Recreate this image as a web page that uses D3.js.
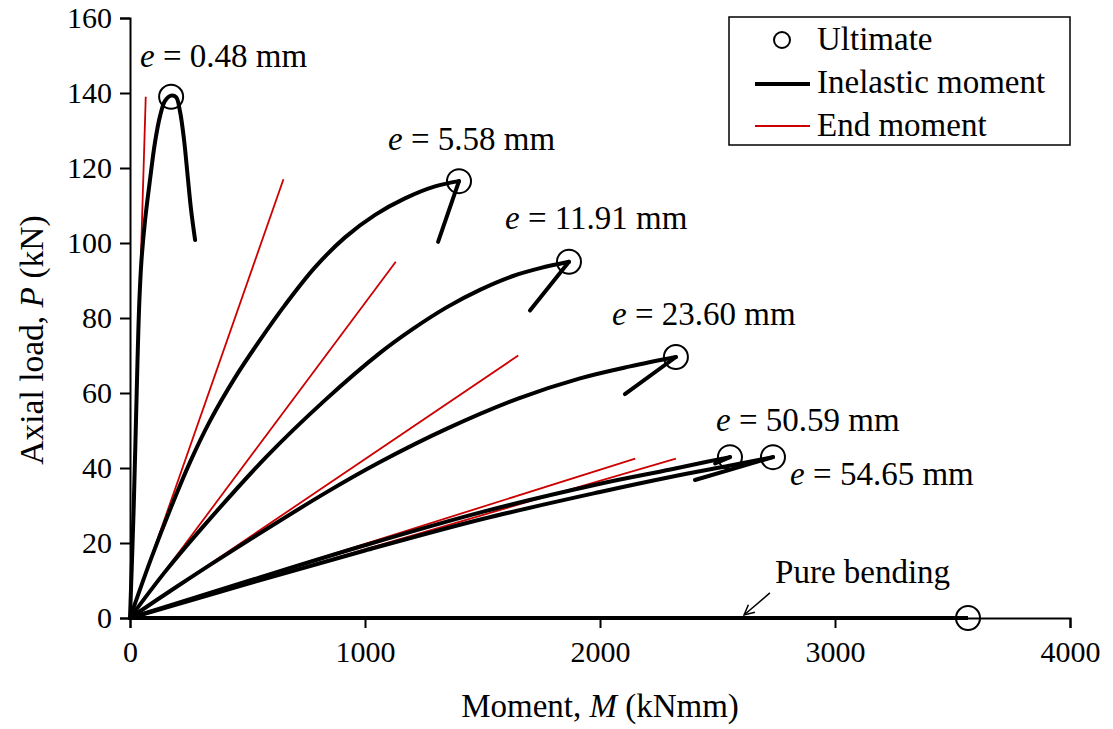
<!DOCTYPE html>
<html>
<head>
<meta charset="utf-8">
<script src="https://cdn.jsdelivr.net/npm/d3@7"></script>
<style>
  body { margin: 0; background: #fff; }
  svg { font-family: "Liberation Serif", "Times New Roman", serif; }
  .axis path, .axis line { stroke: #000; stroke-width: 2; }
  .axis text { font-family: "Liberation Serif", "Times New Roman", serif; font-size: 30px; fill: #000; }
</style>
</head>
<body>
<div class="chart"></div>
<script>
// eccentricities (mm)
const ecc = ["0.48", "5.58", "11.91", "23.60", "50.59", "54.65"];

// inelastic moment curves, rising part [M (kNmm), P (kN)]
const rise048 = [[0,0],[16,30],[32,68.8],[40,84.8],[49,95.5],[64,106],[85,116.8],[106,126.7],[128,133.9],[149,137.9],[174,139.3],[196,138.9],[213,135],[230,127.5],[245,118.1],[260,108.8],[277,100.8]];
const rise558 = [[0,0],[89,15.7],[179,30.2],[255,41.5],[340,52.5],[447,64.1],[553,74.1],[660,83.5],[787,93.5],[915,101.5],[1043,107.5],[1170,111.9],[1298,115.1],[1400,116.5]];
const rise1191 = [[0,0],[149,12.3],[302,23.7],[579,42.9],[830,58.1],[1064,70.7],[1204,77.1],[1349,82.9],[1489,87.5],[1630,91.2],[1745,93.3],[1868,95]];
const rise2360 = [[0,0],[200,8.4],[404,16.7],[830,33.3],[1064,41.6],[1349,50.5],[1651,58.5],[1915,63.9],[2128,67.1],[2323,69.6]];
const rise5059 = [[0,0],[500,9.8],[1000,19.4],[1500,28.3],[2000,35.8],[2300,39.6],[2450,41.6],[2553,42.9]];
const rise5465 = [[0,0],[500,9.1],[1000,18],[1500,26.4],[2000,33.6],[2300,37.6],[2550,40.6],[2680,42.2],[2736,42.9]];

// post-peak unloading branches
const fall558 = [[1400,116.5],[1311,100.3]];
const fall1191 = [[1868,95],[1702,82]];
const fall2360 = [[2323,69.6],[2106,59.7]];
const fall5059 = [[2553,42.9],[2490,41.2]];
const fall5465 = [[2736,42.9],[2404,36.8]];

// pure bending
const pureBending = [[0,0],[3566,0]];

// end moment lines: end points [M, P]
const endMoment = [[67,139],[653,117],[1131,95],[1652,70],[2150,42.5],[2323,42.5]];

// ultimate points [M, P]
const ultimate = [[175,139],[1400,116.5],[1868,95],[2323,69.6],[2553,42.9],[2736,42.9],[3566,0]];

const xTicks = [0, 1000, 2000, 3000, 4000];
const yTicks = [0, 20, 40, 60, 80, 100, 120, 140, 160];

const w = 1113, h = 729;
const margin = { top: 18, right: 43, bottom: 111, left: 130 };
const width = w - margin.left - margin.right;
const height = h - margin.top - margin.bottom;

const x = d3.scaleLinear().domain([0, 4000]).range([0, width]);
const y = d3.scaleLinear().domain([0, 160]).range([height, 0]);

const svg = d3.select(".chart").append("svg")
  .attr("width", w)
  .attr("height", h);

const chart = svg.append("g")
  .attr("transform", "translate(" + margin.left + "," + margin.top + ")");

// axes
chart.append("g")
  .classed("x axis", true)
  .attr("transform", "translate(0," + height + ")")
  .call(d3.axisBottom(x).tickValues(xTicks).tickFormat(d3.format("d"))
    .tickSizeOuter(0).tickSize(10).tickPadding(8))
  .selectAll("text").attr("dy", "0.85em");

chart.append("g")
  .classed("y axis", true)
  .call(d3.axisLeft(y).tickValues(yTicks).tickSizeOuter(0).tickSize(10).tickPadding(8));

// axis titles
svg.append("text")
  .attr("x", margin.left + width / 2)
  .attr("y", 717)
  .attr("text-anchor", "middle")
  .style("font-size", "33px")
  .html('Moment, <tspan font-style="italic">M</tspan> (kNmm)');

svg.append("text")
  .attr("transform", "translate(43," + (margin.top + height / 2 + 22) + ") rotate(-90)")
  .attr("text-anchor", "middle")
  .style("font-size", "33.5px")
  .html('Axial load, <tspan font-style="italic">P</tspan> (kN)');

const line = d3.line()
  .x(d => x(d[0]))
  .y(d => y(d[1]));
const smooth = d3.line()
  .x(d => x(d[0]))
  .y(d => y(d[1]))
  .curve(d3.curveCatmullRom.alpha(0.5));

// end moment (red, straight lines from origin)
chart.selectAll(".end")
  .data(endMoment)
  .enter()
  .append("path")
  .classed("end", true)
  .attr("d", d => line([[0, 0], d]))
  .attr("fill", "none")
  .attr("stroke", "#cc0000")
  .attr("stroke-width", 1.8);

// inelastic moment curves
const rises = [rise048, rise558, rise1191, rise2360, rise5059, rise5465];
const falls = [fall558, fall1191, fall2360, fall5059, fall5465];

chart.selectAll(".rise")
  .data(rises)
  .enter()
  .append("path")
  .classed("rise", true)
  .attr("d", smooth)
  .attr("fill", "none")
  .attr("stroke", "#000")
  .attr("stroke-width", 4)
  .attr("stroke-linejoin", "round")
  .attr("stroke-linecap", "round");

chart.selectAll(".fall")
  .data(falls)
  .enter()
  .append("path")
  .classed("fall", true)
  .attr("d", line)
  .attr("fill", "none")
  .attr("stroke", "#000")
  .attr("stroke-width", 4)
  .attr("stroke-linecap", "round");

chart.append("path")
  .attr("d", line(pureBending))
  .attr("fill", "none")
  .attr("stroke", "#000")
  .attr("stroke-width", 4);

// ultimate circles
chart.selectAll(".ult")
  .data(ultimate)
  .enter()
  .append("circle")
  .classed("ult", true)
  .attr("cx", d => x(d[0]))
  .attr("cy", d => y(d[1]))
  .attr("r", 12)
  .attr("fill", "none")
  .attr("stroke", "#000")
  .attr("stroke-width", 2);

// e labels, anchored at data coordinates
const labelAt = [[43,147],[1098,124.8],[1596,103.7],[2051,78.1],[2494,49.9],[2809,35.5]];
chart.selectAll(".elabel")
  .data(ecc)
  .enter()
  .append("text")
  .classed("elabel", true)
  .attr("x", (d, i) => x(labelAt[i][0]))
  .attr("y", (d, i) => y(labelAt[i][1]))
  .style("font-size", "33px")
  .html(d => '<tspan font-style="italic">e</tspan> = ' + d + ' mm');

// pure bending annotation
chart.append("text")
  .attr("x", x(2745))
  .attr("y", y(9.3))
  .style("font-size", "33px")
  .text("Pure bending");

svg.append("defs").append("marker")
  .attr("id", "arr")
  .attr("viewBox", "0 0 12 12")
  .attr("refX", 11).attr("refY", 6)
  .attr("markerWidth", 12).attr("markerHeight", 12)
  .attr("markerUnits", "userSpaceOnUse")
  .attr("orient", "auto")
  .append("path")
  .attr("d", "M1,1 L11,6 L1,11")
  .attr("fill", "none")
  .attr("stroke", "#000")
  .attr("stroke-width", 1.5);

chart.append("line")
  .attr("x1", x(2723)).attr("y1", y(6.7))
  .attr("x2", x(2613)).attr("y2", y(0.8))
  .attr("stroke", "#000")
  .attr("stroke-width", 1.5)
  .attr("marker-end", "url(#arr)");

// legend
const legend = svg.append("g").attr("transform", "translate(729,17)");
legend.append("rect")
  .attr("width", 341).attr("height", 128)
  .attr("fill", "#fff")
  .attr("stroke", "#000")
  .attr("stroke-width", 1.5);
legend.append("circle")
  .attr("cx", 53).attr("cy", 23).attr("r", 8)
  .attr("fill", "none").attr("stroke", "#000").attr("stroke-width", 2);
legend.append("line")
  .attr("x1", 26).attr("x2", 81).attr("y1", 67).attr("y2", 67)
  .attr("stroke", "#000").attr("stroke-width", 4);
legend.append("line")
  .attr("x1", 26).attr("x2", 81).attr("y1", 109).attr("y2", 109)
  .attr("stroke", "#cc0000").attr("stroke-width", 1.8);
const legendLabels = ["Ultimate", "Inelastic moment", "End moment"];
legend.selectAll(".ltext")
  .data(legendLabels)
  .enter()
  .append("text")
  .attr("x", 88)
  .attr("y", (d, i) => 33 + i * 43)
  .style("font-size", "33px")
  .text(d => d);
</script>
</body>
</html>
